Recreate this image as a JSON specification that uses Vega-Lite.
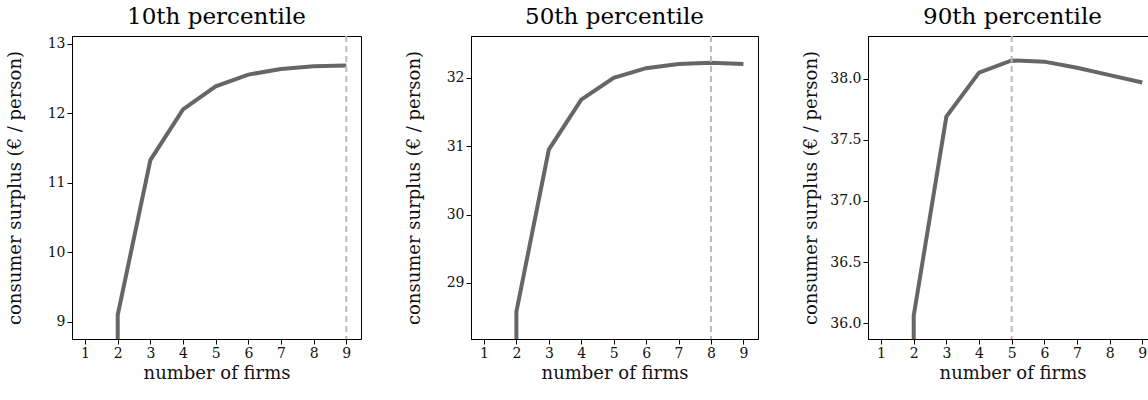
{
  "$schema": "https://vega.github.io/schema/vega-lite/v6.json",
  "padding": {"left": 5, "top": 5, "right": 0, "bottom": 0},
  "spacing": 42,
  "config": {
    "font": "DejaVu Serif",
    "view": {"stroke": "black", "strokeWidth": 1},
    "axis": {"grid": false, "labelFontSize": 14, "titleFontSize": 18, "titleFontWeight": "normal", "labelColor": "#111", "titleColor": "#111", "tickColor": "black", "domainColor": "black", "tickSize": 5, "labelOverlap": false, "labelFlush": false},
    "axisY": {"minExtent": 44, "maxExtent": 44, "titlePadding": 4},
    "title": {"fontSize": 23, "fontWeight": "normal", "offset": 6}
  },
  "datasets": {
    "curve": [
      {"panel": "p10", "firms": 2, "cs": 7.0, "o": 0},
      {"panel": "p10", "firms": 2, "cs": 9.1, "o": 1},
      {"panel": "p10", "firms": 3, "cs": 11.33, "o": 2},
      {"panel": "p10", "firms": 4, "cs": 12.06, "o": 3},
      {"panel": "p10", "firms": 5, "cs": 12.39, "o": 4},
      {"panel": "p10", "firms": 6, "cs": 12.56, "o": 5},
      {"panel": "p10", "firms": 7, "cs": 12.64, "o": 6},
      {"panel": "p10", "firms": 8, "cs": 12.68, "o": 7},
      {"panel": "p10", "firms": 9, "cs": 12.69, "o": 8},
      {"panel": "p50", "firms": 2, "cs": 26.0, "o": 0},
      {"panel": "p50", "firms": 2, "cs": 28.58, "o": 1},
      {"panel": "p50", "firms": 3, "cs": 30.95, "o": 2},
      {"panel": "p50", "firms": 4, "cs": 31.68, "o": 3},
      {"panel": "p50", "firms": 5, "cs": 32.0, "o": 4},
      {"panel": "p50", "firms": 6, "cs": 32.14, "o": 5},
      {"panel": "p50", "firms": 7, "cs": 32.2, "o": 6},
      {"panel": "p50", "firms": 8, "cs": 32.22, "o": 7},
      {"panel": "p50", "firms": 9, "cs": 32.2, "o": 8},
      {"panel": "p90", "firms": 2, "cs": 35.0, "o": 0},
      {"panel": "p90", "firms": 2, "cs": 36.06, "o": 1},
      {"panel": "p90", "firms": 3, "cs": 37.69, "o": 2},
      {"panel": "p90", "firms": 4, "cs": 38.05, "o": 3},
      {"panel": "p90", "firms": 5, "cs": 38.15, "o": 4},
      {"panel": "p90", "firms": 6, "cs": 38.14, "o": 5},
      {"panel": "p90", "firms": 7, "cs": 38.09, "o": 6},
      {"panel": "p90", "firms": 8, "cs": 38.03, "o": 7},
      {"panel": "p90", "firms": 9, "cs": 37.97, "o": 8}
    ],
    "best": [
      {"panel": "p10", "firms": 9},
      {"panel": "p50", "firms": 8},
      {"panel": "p90", "firms": 5}
    ]
  },
  "hconcat": [
    {
      "title": "10th percentile",
      "width": 289, "height": 303,
      "layer": [
        {
          "data": {"name": "curve"},
          "transform": [{"filter": "datum.panel == 'p10'"}],
          "mark": {"type": "line", "color": "#666666", "strokeWidth": 4, "clip": true},
          "encoding": {
            "x": {"field": "firms", "type": "quantitative", "scale": {"domain": [0.6, 9.45], "nice": false}, "axis": {"values": [1,2,3,4,5,6,7,8,9], "labelOverlap": false, "title": "number of firms"}},
            "y": {"field": "cs", "type": "quantitative", "scale": {"domain": [8.755, 13.115], "nice": false, "zero": false}, "axis": {"values": [9,10,11,12,13], "title": "consumer surplus (€ / person)"}},
            "order": {"field": "o"}
          }
        },
        {
          "data": {"name": "best"},
          "transform": [{"filter": "datum.panel == 'p10'"}],
          "mark": {"type": "rule", "color": "#bbbbbb", "strokeWidth": 2, "strokeDash": [6, 4]},
          "encoding": {"x": {"field": "firms", "type": "quantitative", "axis": {"values": [1,2,3,4,5,6,7,8,9], "labelOverlap": false, "title": "number of firms"}}}
        }
      ]
    },
    {
      "title": "50th percentile",
      "width": 287, "height": 303,
      "layer": [
        {
          "data": {"name": "curve"},
          "transform": [{"filter": "datum.panel == 'p50'"}],
          "mark": {"type": "line", "color": "#666666", "strokeWidth": 4, "clip": true},
          "encoding": {
            "x": {"field": "firms", "type": "quantitative", "scale": {"domain": [0.6, 9.45], "nice": false}, "axis": {"values": [1,2,3,4,5,6,7,8,9], "labelOverlap": false, "title": "number of firms"}},
            "y": {"field": "cs", "type": "quantitative", "scale": {"domain": [28.18, 32.61], "nice": false, "zero": false}, "axis": {"values": [29,30,31,32], "title": "consumer surplus (€ / person)"}},
            "order": {"field": "o"}
          }
        },
        {
          "data": {"name": "best"},
          "transform": [{"filter": "datum.panel == 'p50'"}],
          "mark": {"type": "rule", "color": "#bbbbbb", "strokeWidth": 2, "strokeDash": [6, 4]},
          "encoding": {"x": {"field": "firms", "type": "quantitative", "axis": {"values": [1,2,3,4,5,6,7,8,9], "labelOverlap": false, "title": "number of firms"}}}
        }
      ]
    },
    {
      "title": "90th percentile",
      "width": 289, "height": 303,
      "layer": [
        {
          "data": {"name": "curve"},
          "transform": [{"filter": "datum.panel == 'p90'"}],
          "mark": {"type": "line", "color": "#666666", "strokeWidth": 4, "clip": true},
          "encoding": {
            "x": {"field": "firms", "type": "quantitative", "scale": {"domain": [0.6, 9.45], "nice": false}, "axis": {"values": [1,2,3,4,5,6,7,8,9], "labelOverlap": false, "title": "number of firms"}},
            "y": {"field": "cs", "type": "quantitative", "scale": {"domain": [35.87, 38.35], "nice": false, "zero": false}, "axis": {"values": [36,36.5,37,37.5,38], "format": ".1f", "title": "consumer surplus (€ / person)"}},
            "order": {"field": "o"}
          }
        },
        {
          "data": {"name": "best"},
          "transform": [{"filter": "datum.panel == 'p90'"}],
          "mark": {"type": "rule", "color": "#bbbbbb", "strokeWidth": 2, "strokeDash": [6, 4]},
          "encoding": {"x": {"field": "firms", "type": "quantitative", "axis": {"values": [1,2,3,4,5,6,7,8,9], "labelOverlap": false, "title": "number of firms"}}}
        }
      ]
    }
  ]
}
